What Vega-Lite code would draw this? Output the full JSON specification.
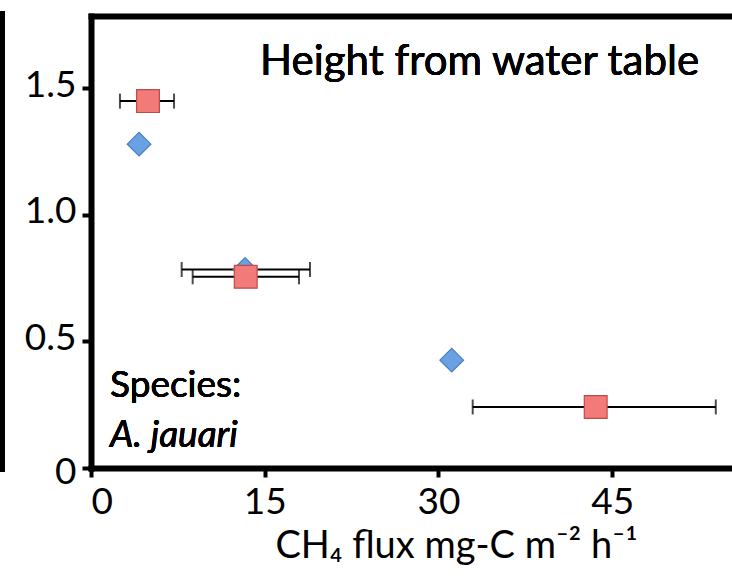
{
  "$schema": "https://vega.github.io/schema/vega-lite/v6.json",
  "width": 641,
  "height": 452,
  "autosize": {"type": "none"},
  "padding": {"left": 91, "top": 16, "right": 0, "bottom": 108},
  "background": "white",
  "config": {
    "font": "Lato",
    "view": {"stroke": null},
    "axis": {
      "domainColor": "black",
      "domainWidth": 6,
      "domainCap": "square",
      "tickColor": "black",
      "tickWidth": 4,
      "tickSize": 9,
      "labelColor": "black",
      "labelFont": "Lato",
      "labelFontSize": 37,
      "titleColor": "black",
      "titleFont": "Lato",
      "grid": false
    }
  },
  "data": {
    "values": [
      {"series": "Series1", "flux": 4.15, "height": 1.279, "lo": null, "hi": null},
      {"series": "Series1", "flux": 13.3, "height": 0.784, "lo": 7.83, "hi": 18.91},
      {"series": "Series1", "flux": 31.15, "height": 0.426, "lo": null, "hi": null},
      {"series": "Series2", "flux": 4.92, "height": 1.449, "lo": 2.5, "hi": 7.17},
      {"series": "Series2", "flux": 13.36, "height": 0.755, "lo": 8.78, "hi": 17.96},
      {"series": "Series2", "flux": 43.58, "height": 0.241, "lo": 32.96, "hi": 53.95}
    ]
  },
  "resolve": {"axis": {"x": "independent", "y": "independent"}},
  "layer": [
    {
      "mark": {"type": "rule", "clip": false, "strokeWidth": 6, "color": "black"},
      "encoding": {
        "x": {"datum": -7.7, "type": "quantitative", "scale": {"domain": [0, 55.35], "nice": false, "zero": false}, "axis": null},
        "y": {"datum": -0.015, "type": "quantitative", "scale": {"domain": [0, 1.785], "nice": false, "zero": false}, "axis": null},
        "y2": {"datum": 1.805}
      }
    },
    {
      "transform": [{"filter": "datum.lo != null"}],
      "mark": {"type": "errorbar", "color": "black", "thickness": 2, "ticks": {"size": 15, "thickness": 2, "color": "black"}},
      "encoding": {
        "x": {"field": "lo", "type": "quantitative", "axis": null},
        "x2": {"field": "hi"},
        "y": {"field": "height", "type": "quantitative", "axis": null}
      }
    },
    {
      "mark": {"type": "point", "filled": true, "opacity": 1, "strokeWidth": 1.2},
      "encoding": {
        "x": {
          "field": "flux",
          "type": "quantitative",
          "scale": {"domain": [0, 55.35], "nice": false, "zero": false},
          "axis": {"orient": "bottom", "values": [0, 15, 30, 45], "labelPadding": 7, "title": "CH₄ flux mg-C m⁻² h⁻¹", "titleFontSize": 38, "titleFontWeight": "normal", "titleX": 365, "titleY": 89, "titleAlign": "center", "titleBaseline": "alphabetic"}
        },
        "y": {
          "field": "height",
          "type": "quantitative",
          "scale": {"domain": [0, 1.785], "nice": false, "zero": false},
          "axis": {"orient": "left", "values": [0, 0.5, 1, 1.5], "labelPadding": 6, "labelOffset": {"condition": {"test": "datum.value == 0", "value": 4}, "value": -3}, "labelExpr": "datum.value == 0 ? '0' : format(datum.value, '.1f')", "title": null}
        },
        "shape": {"field": "series", "type": "nominal", "scale": {"domain": ["Series1", "Series2"], "range": ["diamond", "square"]}, "legend": null},
        "fill": {"field": "series", "type": "nominal", "scale": {"domain": ["Series1", "Series2"], "range": ["#6AA1E4", "#F27A78"]}, "legend": null},
        "stroke": {"field": "series", "type": "nominal", "scale": {"domain": ["Series1", "Series2"], "range": ["#4A7EBB", "#BE4B48"]}, "legend": null},
        "size": {"field": "series", "type": "nominal", "scale": {"domain": ["Series1", "Series2"], "range": [560, 520]}, "legend": null}
      }
    },
    {
      "mark": {"type": "text", "text": "Height from water table", "align": "left", "baseline": "alphabetic", "fontSize": 42, "fontWeight": "normal", "color": "black"},
      "encoding": {
        "x": {"datum": 14.6, "type": "quantitative", "axis": {"orient": "top", "domain": true, "labels": false, "ticks": false, "title": null}},
        "y": {"datum": 1.551, "type": "quantitative", "axis": null}
      }
    },
    {
      "mark": {"type": "text", "text": "Species:", "align": "left", "baseline": "alphabetic", "fontSize": 37, "fontWeight": "normal", "color": "black"},
      "encoding": {
        "x": {"datum": 1.64, "type": "quantitative", "axis": null},
        "y": {"datum": 0.28, "type": "quantitative", "axis": null}
      }
    },
    {
      "mark": {"type": "text", "text": "A. jauari", "align": "left", "baseline": "alphabetic", "fontSize": 37, "fontWeight": "normal", "fontStyle": "italic", "color": "black"},
      "encoding": {
        "x": {"datum": 1.64, "type": "quantitative", "axis": null},
        "y": {"datum": 0.083, "type": "quantitative", "axis": null}
      }
    }
  ]
}
